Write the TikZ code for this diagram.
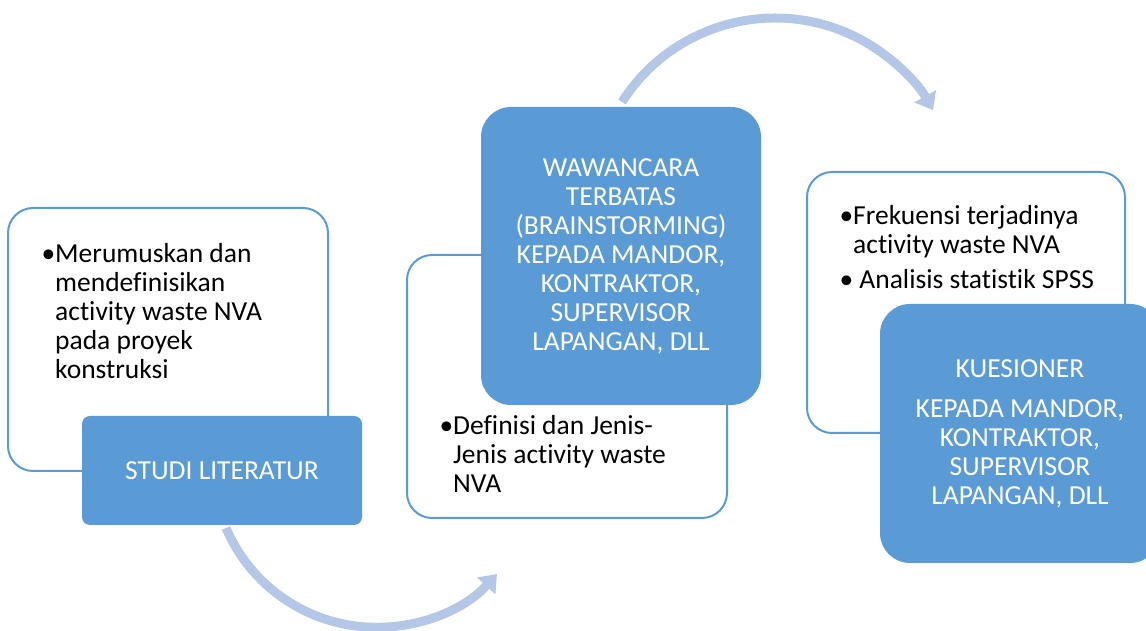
\documentclass[tikz,border=0pt]{standalone}
\usepackage{fontspec}
\setmainfont{Carlito}[Ligatures=NoCommon]
\usetikzlibrary{arrows.meta}
\definecolor{accent}{HTML}{5B9BD5}
\definecolor{flowc}{HTML}{B4C7E7}
\newcommand{\bul}{\leavevmode\llap{•}}
\begin{document}
\begin{tikzpicture}[x=1pt,y=1pt,
  outline/.style={draw=accent, line width=2pt, fill=white, rounded corners=25pt, inner sep=0pt},
  bluebox/.style={fill=accent, draw=none, inner sep=0pt, text=white, align=center, font=\fontsize{27.5}{29}\selectfont},
  flow/.style={draw=flowc, line width=9pt, -{Triangle[length=16pt,width=24pt]}},
  ltext/.style={anchor=base west, inner sep=0pt, font=\fontsize{27.5}{29}\selectfont},
]
\clip (0,0) rectangle (1146,631);
% arrows
\coordinate (a1s) at (226,103);
\coordinate (a2s) at (622,529);
\draw[flow] (a1s) arc[start angle=203.1, end angle=317.6, radius=163.4pt];
\draw[flow] (a2s) arc[start angle=147.5, end angle=29.5, radius=181.5pt];
% step 1
\node[outline, minimum width=320pt, minimum height=263pt] (lit) at (168,291.5) {};
\node[bluebox, rounded corners=8pt, minimum width=280pt, minimum height=109pt] (studi) at (222,160.5) {STUDI LITERATUR};
% step 2
\node[outline, minimum width=320pt, minimum height=263pt] (def) at (567,244.5) {};
\node[bluebox, rounded corners=30pt, minimum width=280pt, minimum height=298pt] (wawan) at (621,375)
  {WAWANCARA\\TERBATAS\\(BRAINSTORMING)\\KEPADA MANDOR,\\KONTRAKTOR,\\SUPERVISOR\\LAPANGAN, DLL};
% step 3
\node[outline, minimum width=318pt, minimum height=261pt] (frek) at (966,328.5) {};
\node[bluebox, rounded corners=30pt, minimum width=280pt, minimum height=259pt] (kues) at (1020,197.5)
  {KUESIONER\\[11pt]KEPADA MANDOR,\\KONTRAKTOR,\\SUPERVISOR\\LAPANGAN, DLL};
% bullet texts
\node[ltext] (t1) at (55,368) {\parbox[t]{260pt}{\raggedright\bul Merumuskan dan\\mendefinisikan\\activity waste NVA\\pada proyek\\konstruksi}};
\node[ltext] (t2) at (453,196) {\parbox[t]{260pt}{\raggedright\bul Definisi dan Jenis-\\Jenis activity waste\\NVA}};
\node[ltext] (t3) at (853,406) {\parbox[t]{270pt}{\raggedright\bul Frekuensi terjadinya\\activity waste NVA\\[6pt]\bul\ Analisis statistik SPSS}};
\end{tikzpicture}
\end{document}
